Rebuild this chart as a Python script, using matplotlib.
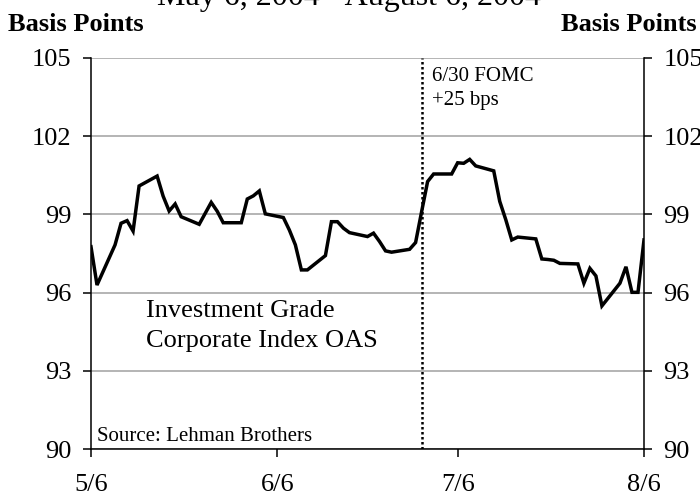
import numpy as np
import pandas as pd
import matplotlib
matplotlib.use("Agg")
import matplotlib.pyplot as plt
import matplotlib.dates as mdates

plt.rcParams['font.family'] = ['Liberation Serif', 'DejaVu Serif']

# Investment Grade Corporate Index OAS (bps)
dates = ["2004-05-06", "2004-05-07", "2004-05-10", "2004-05-11", "2004-05-12",
         "2004-05-13", "2004-05-14", "2004-05-17", "2004-05-18", "2004-05-19",
         "2004-05-20", "2004-05-21", "2004-05-24", "2004-05-25", "2004-05-26",
         "2004-05-27", "2004-05-28", "2004-05-31", "2004-06-01", "2004-06-02",
         "2004-06-03", "2004-06-04", "2004-06-07", "2004-06-08", "2004-06-09",
         "2004-06-10", "2004-06-11", "2004-06-14", "2004-06-15", "2004-06-16",
         "2004-06-17", "2004-06-18", "2004-06-21", "2004-06-22", "2004-06-23",
         "2004-06-24", "2004-06-25", "2004-06-28", "2004-06-29", "2004-06-30",
         "2004-07-01", "2004-07-02", "2004-07-05", "2004-07-06", "2004-07-07",
         "2004-07-08", "2004-07-09", "2004-07-12", "2004-07-13", "2004-07-14",
         "2004-07-15", "2004-07-16", "2004-07-19", "2004-07-20", "2004-07-21",
         "2004-07-22", "2004-07-23", "2004-07-26", "2004-07-27", "2004-07-28",
         "2004-07-29", "2004-07-30", "2004-08-02", "2004-08-03", "2004-08-04",
         "2004-08-05", "2004-08-06"]
oas = [97.76, 96.29, 97.83, 98.66, 98.76,
       98.36, 100.09, 100.47, 99.70, 99.13,
       99.40, 98.91, 98.62, 99.04, 99.46,
       99.12, 98.68, 98.68, 99.59, 99.71,
       99.90, 99.02, 98.88, 98.40, 97.83,
       96.87, 96.87, 97.42, 98.72, 98.72,
       98.47, 98.30, 98.15, 98.28, 97.96,
       97.60, 97.55, 97.66, 97.92, 99.10,
       100.26, 100.55, 100.55, 100.98, 100.96,
       101.11, 100.86, 100.67, 99.50, 98.80,
       98.02, 98.13, 98.06, 97.29, 97.27,
       97.24, 97.12, 97.10, 96.36, 96.93,
       96.64, 95.49, 96.36, 96.99, 96.01,
       96.01, 98.02]

fomc_date = "2004-06-30"
x_ticks = ["2004-05-06", "2004-06-06", "2004-07-06", "2004-08-06"]
x_labels = ["5/6", "6/6", "7/6", "8/6"]
y_ticks = [90, 93, 96, 99, 102, 105]

d = pd.to_datetime(dates)
xt = pd.to_datetime(x_ticks)

fig = plt.figure(figsize=(7.0, 4.99), dpi=100)
ax = fig.add_axes([0.130, 0.1002, 0.790, 0.7836])

ax.plot(d, oas, color='black', linewidth=2.5, solid_joinstyle='miter', zorder=3)
ax.axvline(pd.Timestamp(fomc_date), color='black', linestyle=(0, (1, 1)),
           linewidth=1.8, zorder=2)

ax.set_xlim(xt[0], xt[-1])
ax.set_ylim(90, 105)
ax.set_yticks(y_ticks)
ax.set_xticks(xt)
ax.set_xticklabels(x_labels)
ax.grid(axis='y', color='#a0a0a0', linewidth=1.1)
ax.set_axisbelow(True)

for s in ['left', 'right', 'bottom']:
    ax.spines[s].set_color('black')
    ax.spines[s].set_linewidth(1.1)
ax.spines['top'].set_visible(False)

ax.tick_params(axis='both', direction='out', length=6, width=1.1, labelsize=19,
               colors='black')
ax.tick_params(axis='y', left=True, right=True, labelleft=True, labelright=True, pad=8)
ax.tick_params(axis='x', pad=12)

ax.text(0.0995, 0.3146, "Investment Grade\nCorporate Index OAS", transform=ax.transAxes,
        fontsize=19, ha='left', va='center', linespacing=1.45)
ax.text(0.011, 0.031, "Source: Lehman Brothers", transform=ax.transAxes,
        fontsize=15, ha='left', va='center')
ax.text(0.617, 0.922, "6/30 FOMC\n+25 bps", transform=ax.transAxes,
        fontsize=15, ha='left', va='center', linespacing=1.3)

fig.text(0.012, 0.950, "Basis Points", fontsize=19, fontweight='bold',
         ha='left', va='center')
fig.text(0.995, 0.950, "Basis Points", fontsize=19, fontweight='bold',
         ha='right', va='center')
fig.text(0.499, 0.990, "May 6, 2004 - August 6, 2004", fontsize=23,
         ha='center', va='baseline')

fig.savefig("out.png", dpi=100)
